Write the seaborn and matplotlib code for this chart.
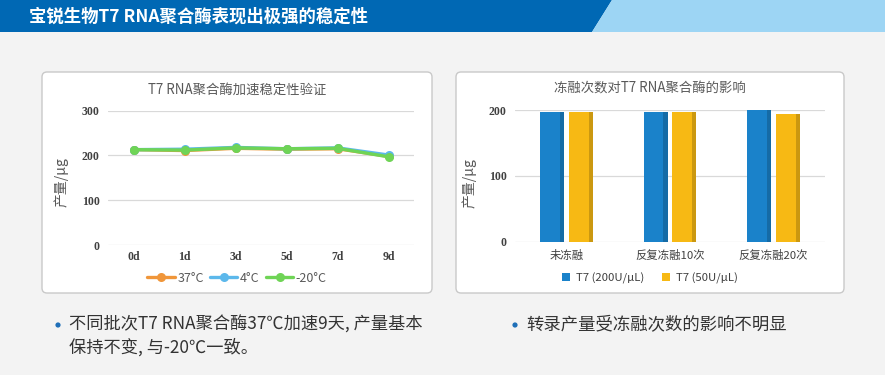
import numpy as np
import pandas as pd
import matplotlib
matplotlib.use("Agg")
import matplotlib.pyplot as plt
import seaborn as sns
from matplotlib.patches import Polygon, FancyBboxPatch, Rectangle, Circle
import matplotlib.colors as mcolors

# ---------------- data ----------------
days = ["0d", "1d", "3d", "5d", "7d", "9d"]
yield_37 = [213, 211, 216, 214, 215, 198]
yield_4 = [213, 214, 218, 215, 217, 201]
yield_m20 = [213, 212, 217, 215, 216, 197]
temp_labels = ["37°C", "4°C", "-20°C"]

ft_conditions = ["未冻融", "反复冻融10次", "反复冻融20次"]
t7_200 = [197, 198, 200]
t7_50 = [197.5, 197, 194]
bar_labels = ["T7 (200U/μL)", "T7 (50U/μL)"]

# ---------------- style ----------------
sns.set_theme(style="white")
plt.rcParams['font.family'] = ['Noto Sans CJK SC', 'DejaVu Sans']

W, H = 885, 375
fig = plt.figure(figsize=(W / 100, H / 100), dpi=100)
fig.patch.set_facecolor("#F3F3F3")

# background / layout axes in pixel coordinates
bg = fig.add_axes([0, 0, 1, 1])
bg.set_xlim(0, W)
bg.set_ylim(H, 0)
bg.axis("off")
bg.set_zorder(0)

bg.add_patch(Polygon([(0, 0), (612, 0), (592, 32), (0, 32)], closed=True,
                     facecolor="#0068B4", edgecolor="none"))
bg.add_patch(Polygon([(612, 0), (W, 0), (W, 32), (592, 32)], closed=True,
                     facecolor="#9DD5F4", edgecolor="none"))
bg.text(29, 16.5, "宝锐生物T7 RNA聚合酶表现出极强的稳定性", color="white",
        fontsize=12.5, fontweight="bold", va="center", ha="left")

for (x0, w0) in [(42, 390), (456, 388)]:
    bg.add_patch(FancyBboxPatch((x0, 72), w0, 221,
                                boxstyle="round,pad=0,rounding_size=5",
                                facecolor="white", edgecolor="#C9C9C9", linewidth=1))

# chart titles
bg.text(237, 89.5, "T7 RNA聚合酶加速稳定性验证", color="#595959", fontsize=9.6,
        ha="center", va="center")
bg.text(650, 88.5, "冻融次数对T7 RNA聚合酶的影响", color="#595959", fontsize=9.6,
        ha="center", va="center")
bg.text(61, 182, "产量/μg", color="#595959", fontsize=10, rotation=90,
        ha="center", va="center")
bg.text(469, 183, "产量/μg", color="#595959", fontsize=10, rotation=90,
        ha="center", va="center")

# bullet texts
bullet_c = "#1F6FB8"
for bx, by in [(58, 325), (515, 325)]:
    bg.add_patch(Circle((bx, by), 2.6, facecolor=bullet_c, edgecolor="none"))
bg.text(69, 325, "不同批次T7 RNA聚合酶37℃加速9天, 产量基本", color="#333333",
        fontsize=12.4, ha="left", va="center")
bg.text(69, 347, "保持不变, 与-20℃一致。", color="#333333",
        fontsize=12.4, ha="left", va="center")
bg.text(526, 325, "转录产量受冻融次数的影响不明显", color="#333333",
        fontsize=12.5, ha="left", va="center")

serif = ["Liberation Serif", "DejaVu Serif"]

# ---------------- left: line chart ----------------
ax1 = fig.add_axes([108 / W, (H - 245) / H, 306 / W, 134.3 / H])
ax1.set_zorder(2)
ax1.set_facecolor("none")
df_line = pd.DataFrame({
    "天数": days * 3,
    "产量": yield_37 + yield_4 + yield_m20,
    "温度": [t for t in temp_labels for _ in days],
})
line_colors = ["#F0963A", "#5CB8EB", "#6FD456"]
sns.lineplot(data=df_line, x="天数", y="产量", hue="温度", palette=line_colors,
             marker="o", markersize=6.5, markeredgewidth=0, linewidth=2.4,
             sort=False, ax=ax1)
ax1.set_ylim(0, 300)
ax1.set_xlim(-0.5, 5.5)
ax1.set_yticks([0, 100, 200, 300])
ax1.yaxis.grid(True, color="#D9D9D9", linewidth=0.9)
ax1.xaxis.grid(False)
for s in ax1.spines.values():
    s.set_visible(False)
ax1.set_xlabel("")
ax1.set_ylabel("")
ax1.tick_params(axis="both", length=0, colors="#404040")
ax1.tick_params(axis="y", pad=6)
ax1.tick_params(axis="x", pad=4)
for lab in ax1.get_xticklabels() + ax1.get_yticklabels():
    lab.set_fontfamily(serif)
    lab.set_fontsize(8.5)
    lab.set_fontweight("bold")
h1, l1 = ax1.get_legend_handles_labels()
ax1.get_legend().remove()
fig.legend(h1, l1, loc="center", bbox_to_anchor=(237 / W, 1 - 278 / H), ncol=3,
           frameon=False, fontsize=9, handlelength=2.2, columnspacing=0.5,
           handletextpad=0.2, labelcolor="#595959")

# ---------------- right: bar chart ----------------
ax2 = fig.add_axes([515 / W, (H - 241.7) / H, 310 / W, 131.4 / H])
ax2.set_zorder(2)
ax2.set_facecolor("none")
df_bar = pd.DataFrame({
    "条件": ft_conditions * 2,
    "产量": t7_200 + t7_50,
    "规格": [b for b in bar_labels for _ in ft_conditions],
})
bar_colors = ["#1A82CA", "#F7B914"]
sns.barplot(data=df_bar, x="条件", y="产量", hue="规格", palette=bar_colors,
            saturation=1, width=0.56, gap=0.17, ax=ax2, zorder=3,
            linewidth=0, edgecolor="none")
h2, l2 = ax2.get_legend_handles_labels()
ax2.get_legend().remove()
for p in list(ax2.patches):
    bb = p.get_bbox()
    x, w = bb.x0, bb.width
    y0, hgt = bb.y0, bb.height
    fc = np.array(mcolors.to_rgb(p.get_facecolor()))
    dark = fc * 0.82
    ax2.add_patch(Rectangle((x + 0.83 * w, y0), 0.17 * w, hgt,
                            facecolor=dark, edgecolor="none", linewidth=0,
                            zorder=4))
ax2.set_ylim(0, 200)
ax2.set_xlim(-0.5, 2.5)
ax2.set_yticks([0, 100, 200])
ax2.yaxis.grid(True, color="#D9D9D9", linewidth=0.9)
ax2.set_axisbelow(True)
ax2.xaxis.grid(False)
for s in ax2.spines.values():
    s.set_visible(False)
ax2.set_xlabel("")
ax2.set_ylabel("")
ax2.tick_params(axis="both", length=0, colors="#404040")
ax2.tick_params(axis="y", pad=6)
ax2.tick_params(axis="x", pad=6)
for lab in ax2.get_yticklabels():
    lab.set_fontfamily(serif)
    lab.set_fontsize(8.5)
    lab.set_fontweight("bold")
for lab in ax2.get_xticklabels():
    lab.set_fontsize(8.2)
    lab.set_color("#404040")
fig.legend(h2, l2, loc="center", bbox_to_anchor=(650 / W, 1 - 278 / H), ncol=2,
           frameon=False, fontsize=8.2, handlelength=0.7, handleheight=0.7,
           columnspacing=1.6, handletextpad=0.5, labelcolor="#404040")

fig.savefig("out.png", dpi=100, facecolor=fig.get_facecolor())
